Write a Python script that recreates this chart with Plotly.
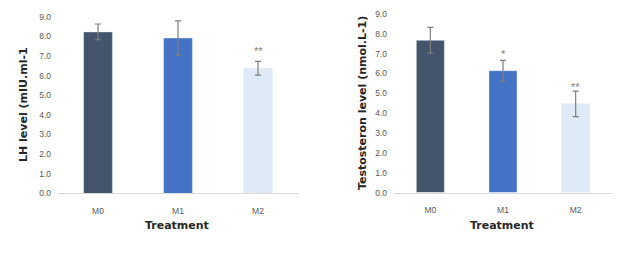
import plotly.graph_objects as go

categories = ["M0", "M1", "M2"]
lh_values = [8.22, 7.91, 6.37]
lh_err = [0.40, 0.87, 0.35]
lh_marks = ["", "", "**"]
lh_mark_y = [None, None, 7.26]

t_values = [7.67, 6.14, 4.47]
t_err = [0.65, 0.52, 0.64]
t_marks = ["", "*", "**"]
t_mark_y = [None, 6.98, 5.30]

bar_colors = ["#44546A", "#4472C4", "#DEEBF7"]
y_ticks = [0, 1, 2, 3, 4, 5, 6, 7, 8, 9]
y_ticktext = [f"{v:.1f}" for v in y_ticks]

W, H = 626, 261
FONT = "Liberation Sans"
TICKC = "#595959"

fig = go.Figure()
fig.add_trace(go.Bar(x=categories, y=lh_values, marker_color=bar_colors, width=[0.36] * 3,
                     error_y=dict(type="data", array=lh_err, color="#7F7F7F", thickness=1.2, width=3),
                     xaxis="x", yaxis="y", showlegend=False))
fig.add_trace(go.Bar(x=categories, y=t_values, marker_color=bar_colors, width=[0.386] * 3,
                     error_y=dict(type="data", array=t_err, color="#7F7F7F", thickness=1.2, width=3),
                     xaxis="x2", yaxis="y2", showlegend=False))

ann = []
for c, m, yv in zip(categories, lh_marks, lh_mark_y):
    if m:
        ann.append(dict(x=c, y=yv, xref="x", yref="y", text=m, showarrow=False,
                        xanchor="center", yanchor="middle",
                        font=dict(family=FONT, size=11, color="#7F7F7F")))
for c, m, yv in zip(categories, t_marks, t_mark_y):
    if m:
        ann.append(dict(x=c, y=yv, xref="x2", yref="y2", text=m, showarrow=False,
                        xanchor="center", yanchor="middle",
                        font=dict(family=FONT, size=11, color="#7F7F7F")))

def px(x):
    return x / W
def py(y):
    return 1 - y / H

title_font = dict(family="DejaVu Sans", size=11, color="#262626")
ann += [
    dict(x=px(177), y=py(229), text="<b>Treatment</b>", font=title_font),
    dict(x=px(502), y=py(229), text="<b>Treatment</b>", font=title_font),
    dict(x=px(23), y=py(104), text="<b>LH level (mIU.ml-1</b>", textangle=-90, font=title_font),
    dict(x=px(362), y=py(102), text="<b>Testosteron level (nmol.L-1)</b>", textangle=-90, font=title_font),
]
for a in ann[-4:]:
    a.update(xref="paper", yref="paper", showarrow=False, xanchor="center", yanchor="middle")

xaxis_common = dict(showline=True, linecolor="#D9D9D9", linewidth=1, showgrid=False, ticks="",
                    ticklabelstandoff=9,
                    tickfont=dict(family=FONT, size=8.5, color=TICKC), fixedrange=True)
yaxis_common = dict(range=[0, 9], tickvals=y_ticks, ticktext=y_ticktext, showgrid=False, zeroline=False,
                    showline=False, ticks="", ticklabelstandoff=6,
                    tickfont=dict(family=FONT, size=8.5, color=TICKC))

fig.update_layout(
    width=W, height=H, margin=dict(l=0, r=0, t=0, b=0),
    paper_bgcolor="white", plot_bgcolor="white",
    xaxis=dict(domain=[px(58), px(298)], anchor="y", **xaxis_common),
    yaxis=dict(domain=[py(196), py(12)], anchor="x", **yaxis_common),
    xaxis2=dict(domain=[px(394), px(612)], anchor="y2", **xaxis_common),
    yaxis2=dict(domain=[py(195), py(9.3)], anchor="x2", **yaxis_common),
    annotations=ann,
)

fig.write_html("out.html")
